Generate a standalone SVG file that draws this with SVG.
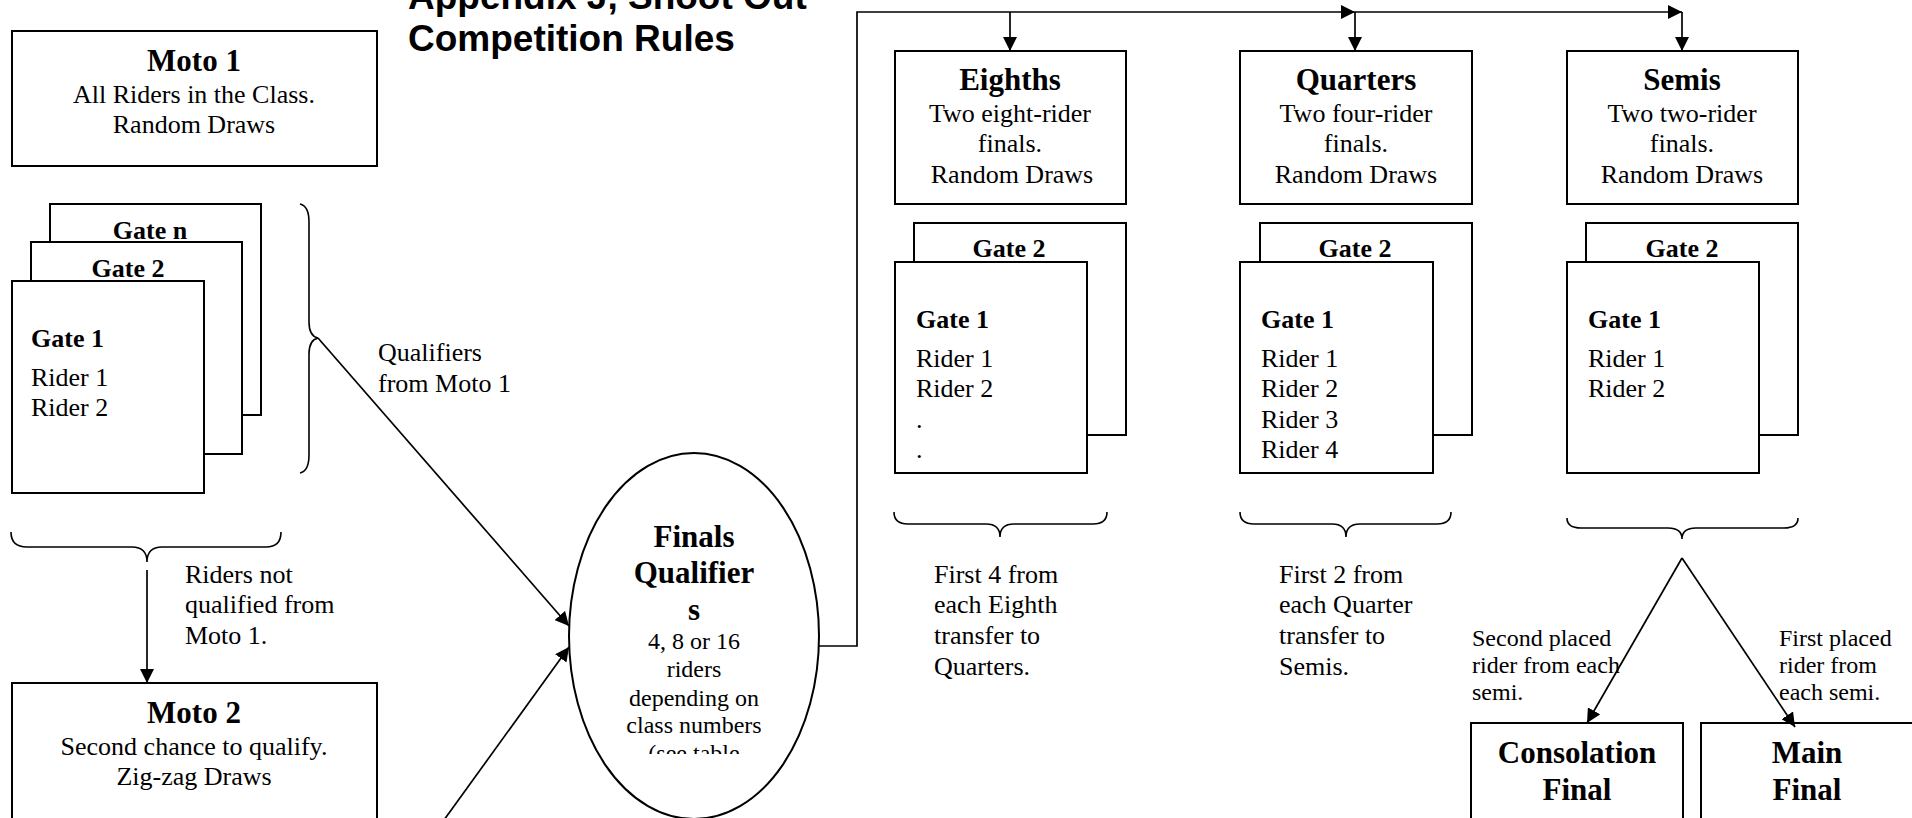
<svg xmlns="http://www.w3.org/2000/svg" width="1912" height="818" viewBox="0 0 1912 818">
<style>
.box{fill:#fff;stroke:#000;stroke-width:2}
.ln{fill:none;stroke:#000;stroke-width:1.7}
.br{fill:none;stroke:#000;stroke-width:1.6}
.t{font-family:"Liberation Serif","Times New Roman",serif;font-size:26px;fill:#000}
.s{font-family:"Liberation Serif","Times New Roman",serif;font-size:24px;fill:#000}
.b{font-family:"Liberation Serif","Times New Roman",serif;font-size:31px;font-weight:bold;fill:#000}
.g{font-family:"Liberation Serif","Times New Roman",serif;font-size:26px;font-weight:bold;fill:#000}
.h{font-family:"Liberation Sans",Arial,sans-serif;font-size:37px;font-weight:bold;fill:#000}
.c{text-anchor:middle}
</style>
<defs>
<marker id="arr" markerWidth="14" markerHeight="14" refX="14" refY="7" orient="auto" markerUnits="userSpaceOnUse"><path d="M0,0 L14,7 L0,14 z" fill="#000"/></marker>
<clipPath id="ellclip"><rect x="560" y="440" width="270" height="314"/></clipPath>
</defs>
<rect width="1912" height="818" fill="#fff"/>

<g id="title">
<text class="h" x="408" y="9">Appendix J, Shoot Out</text>
<text class="h" x="408" y="51">Competition Rules</text>
</g>

<g id="moto1">
<rect class="box" x="12" y="31" width="365" height="135"/>
<text class="b c" x="194" y="71">Moto 1</text>
<text class="t c" x="194" y="103">All Riders in the Class.</text>
<text class="t c" x="194" y="133">Random Draws</text>
</g>

<g id="moto1-gates">
<rect class="box" x="50" y="204" width="211" height="211"/>
<text class="g c" x="150" y="239">Gate n</text>
<rect class="box" x="31" y="242" width="211" height="212"/>
<text class="g c" x="128" y="277">Gate 2</text>
<rect class="box" x="12" y="281" width="192" height="212"/>
<text class="g" x="31" y="347">Gate 1</text>
<text class="t" x="31" y="386">Rider 1</text>
<text class="t" x="31" y="416">Rider 2</text>
</g>

<g id="label-qualifiers">
<text class="t" x="378" y="361">Qualifiers</text>
<text class="t" x="378" y="392">from Moto 1</text>
</g>

<g id="label-notqualified">
<text class="t" x="185" y="583">Riders not</text>
<text class="t" x="185" y="613">qualified from</text>
<text class="t" x="185" y="644">Moto 1.</text>
</g>

<g id="moto2">
<rect class="box" x="12" y="683" width="365" height="150"/>
<text class="b c" x="194" y="723">Moto 2</text>
<text class="t c" x="194" y="755">Second chance to qualify.</text>
<text class="t c" x="194" y="785">Zig-zag Draws</text>
</g>

<g id="finals-qualifiers">
<ellipse class="box" cx="694" cy="636" rx="125" ry="183"/>
<text class="b c" x="694" y="547">Finals</text>
<text class="b c" x="694" y="583">Qualifier</text>
<text class="b c" x="694" y="620">s</text>
<text class="s c" x="694" y="649">4, 8 or 16</text>
<text class="s c" x="694" y="677">riders</text>
<text class="s c" x="694" y="706">depending on</text>
<text class="s c" x="694" y="733">class numbers</text>
<text class="s c" x="694" y="761" clip-path="url(#ellclip)">(see table</text>
</g>

<g id="eighths">
<rect class="box" x="895" y="51" width="231" height="153"/>
<text class="b c" x="1010" y="90">Eighths</text>
<text class="t c" x="1010" y="122">Two eight-rider</text>
<text class="t c" x="1010" y="152">finals.</text>
<text class="t c" x="1012" y="183">Random Draws</text>
</g>
<g id="eighths-gates">
<rect class="box" x="914" y="223" width="212" height="212"/>
<text class="g c" x="1009" y="257">Gate 2</text>
<rect class="box" x="895" y="262" width="192" height="211"/>
<text class="g" x="916" y="328">Gate 1</text>
<text class="t" x="916" y="367">Rider 1</text>
<text class="t" x="916" y="397">Rider 2</text>
<text class="t" x="916" y="428">.</text>
<text class="t" x="916" y="458">.</text>
</g>

<g id="quarters">
<rect class="box" x="1240" y="51" width="232" height="153"/>
<text class="b c" x="1356" y="90">Quarters</text>
<text class="t c" x="1356" y="122">Two four-rider</text>
<text class="t c" x="1356" y="152">finals.</text>
<text class="t c" x="1356" y="183">Random Draws</text>
</g>
<g id="quarters-gates">
<rect class="box" x="1260" y="223" width="212" height="212"/>
<text class="g c" x="1355" y="257">Gate 2</text>
<rect class="box" x="1240" y="262" width="193" height="211"/>
<text class="g" x="1261" y="328">Gate 1</text>
<text class="t" x="1261" y="367">Rider 1</text>
<text class="t" x="1261" y="397">Rider 2</text>
<text class="t" x="1261" y="428">Rider 3</text>
<text class="t" x="1261" y="458">Rider 4</text>
</g>

<g id="semis">
<rect class="box" x="1567" y="51" width="231" height="153"/>
<text class="b c" x="1682" y="90">Semis</text>
<text class="t c" x="1682" y="122">Two two-rider</text>
<text class="t c" x="1682" y="152">finals.</text>
<text class="t c" x="1682" y="183">Random Draws</text>
</g>
<g id="semis-gates">
<rect class="box" x="1586" y="223" width="212" height="212"/>
<text class="g c" x="1682" y="257">Gate 2</text>
<rect class="box" x="1567" y="262" width="192" height="211"/>
<text class="g" x="1588" y="328">Gate 1</text>
<text class="t" x="1588" y="367">Rider 1</text>
<text class="t" x="1588" y="397">Rider 2</text>
</g>

<g id="label-eighths">
<text class="t" x="934" y="583">First 4 from</text>
<text class="t" x="934" y="613">each Eighth</text>
<text class="t" x="934" y="644">transfer to</text>
<text class="t" x="934" y="675">Quarters.</text>
</g>
<g id="label-quarters">
<text class="t" x="1279" y="583">First 2 from</text>
<text class="t" x="1279" y="613">each Quarter</text>
<text class="t" x="1279" y="644">transfer to</text>
<text class="t" x="1279" y="675">Semis.</text>
</g>
<g id="label-second">
<text class="s" x="1472" y="646">Second placed</text>
<text class="s" x="1472" y="673">rider from each</text>
<text class="s" x="1472" y="700">semi.</text>
</g>
<g id="label-first">
<text class="s" x="1779" y="646">First placed</text>
<text class="s" x="1779" y="673">rider from</text>
<text class="s" x="1779" y="700">each semi.</text>
</g>

<g id="consolation-final">
<rect class="box" x="1471" y="723" width="212" height="110"/>
<text class="b c" x="1577" y="763">Consolation</text>
<text class="b c" x="1577" y="800">Final</text>
</g>
<g id="main-final">
<rect class="box" x="1701" y="723" width="212" height="110"/>
<text class="b c" x="1807" y="763">Main</text>
<text class="b c" x="1807" y="800">Final</text>
</g>

<g id="connectors">
<path class="br" d="M300,204 Q309,206 309,222 L309,322 Q309,336 318,338 Q309,340 309,354 L309,455 Q309,471 300,473"/>
<path class="br" d="M11,532 Q11,547 27,547 L132,547 Q147,547 147,562 Q147,547 162,547 L266,547 Q281,547 281,532"/>
<path class="br" d="M894,512 Q894,524 908,524 L986,524 Q1000,524 1000,537 Q1000,524 1014,524 L1093,524 Q1107,524 1107,512"/>
<path class="br" d="M1240,512 Q1240,524 1254,524 L1332,524 Q1346,524 1346,537 Q1346,524 1360,524 L1437,524 Q1451,524 1451,512"/>
<path class="br" d="M1567,518 Q1567,528 1581,528 L1668,528 Q1682,528 1682,539 Q1682,528 1696,528 L1784,528 Q1798,528 1798,518"/>
<line class="ln" x1="318" y1="338" x2="569" y2="626" marker-end="url(#arr)"/>
<line class="ln" x1="444" y1="820" x2="569" y2="647" marker-end="url(#arr)"/>
<line class="ln" x1="147" y1="570" x2="147" y2="683" marker-end="url(#arr)"/>
<path class="ln" d="M819,646 L857,646 L857,12 L1010,12"/>
<line class="ln" x1="1010" y1="12" x2="1355" y2="12" marker-end="url(#arr)"/>
<line class="ln" x1="1355" y1="12" x2="1682" y2="12" marker-end="url(#arr)"/>
<line class="ln" x1="1010" y1="12" x2="1010" y2="51" marker-end="url(#arr)"/>
<line class="ln" x1="1355" y1="12" x2="1355" y2="51" marker-end="url(#arr)"/>
<line class="ln" x1="1682" y1="12" x2="1682" y2="51" marker-end="url(#arr)"/>
<line class="ln" x1="1682" y1="558" x2="1587" y2="723" marker-end="url(#arr)"/>
<line class="ln" x1="1682" y1="558" x2="1795" y2="727" marker-end="url(#arr)"/>
</g>
</svg>
